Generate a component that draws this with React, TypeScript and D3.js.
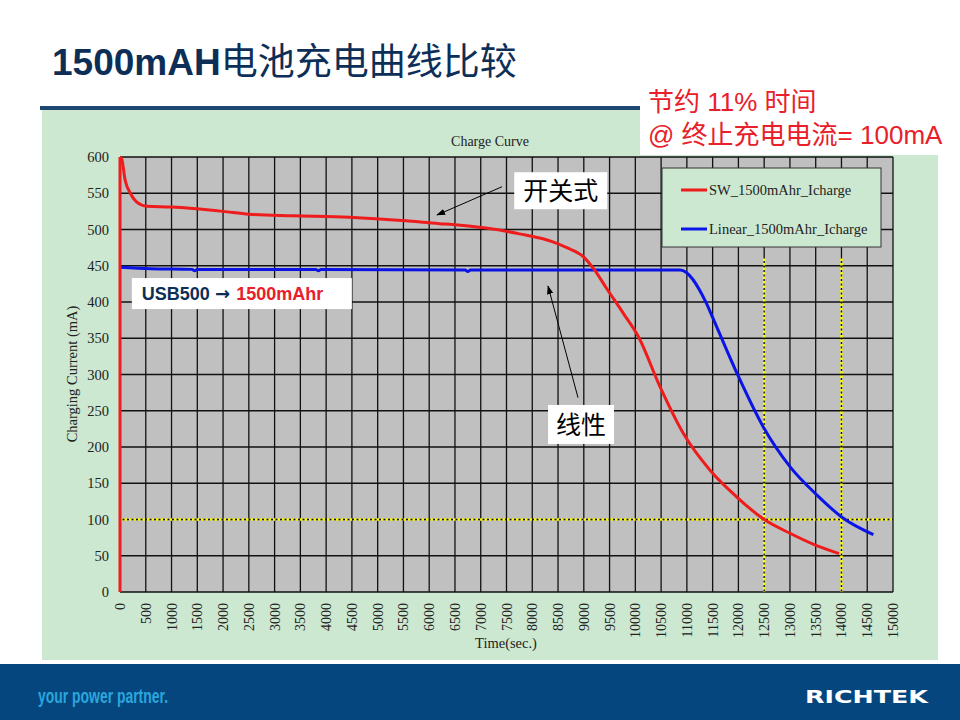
import React, { useEffect, useRef } from 'react';
import * as d3 from 'd3';

// switching charger (red)
const swTime = [0, 0, 30, 100, 200, 320, 520, 1000, 2000, 2500, 3350, 4450, 5550, 6200, 6450, 7100, 7750, 8400, 8670, 9000, 9190, 9440, 9770, 10060, 10480, 10930, 11450, 11970, 12480, 13000, 13450, 13950];
const swCurrent = [0, 600, 598, 568, 550, 538, 532, 531, 525, 521, 519, 517, 512, 508, 507, 502, 494, 483, 475, 462, 446, 419, 384, 352, 283, 219, 168, 131, 101, 81, 66, 53];

// linear charger (blue)
const linTime = [0, 600, 1400, 1450, 1500, 3800, 3850, 3900, 6700, 6750, 6800, 10870, 11380, 11510, 11970, 12480, 13000, 13520, 14030, 14620];
const linCurrent = [448, 446, 445, 443, 445, 445, 443, 445, 444, 442, 444, 444, 398, 377, 302, 228, 173, 134, 102, 79];

const seriesNames = ['SW_1500mAhr_Icharge', 'Linear_1500mAhr_Icharge'];
const seriesColors = ['#ee1c1c', '#0a14e6'];

const xTicks = d3.range(0, 15001, 500);
const yTicks = d3.range(0, 601, 50);

// yellow reference lines
const endCurrent = 100;
const endTimes = [12500, 14000];
const endTop = 460;

const RED = '#e8202a';
const NAVY = '#0d2f57';

export default function App() {
  const svgRef = useRef() as React.RefObject<SVGSVGElement>;

  useEffect(() => {
    const svg = d3.select(svgRef.current);
    svg.selectAll('*').remove();

    const left = 120, right = 893, top = 157, bottom = 592;
    const x = d3.scaleLinear().domain([0, 15000]).range([left, right]);
    const y = d3.scaleLinear().domain([0, 600]).range([bottom, top]);

    // slide background
    svg.append('rect').attr('width', 960).attr('height', 720).attr('fill', '#fff');
    svg.append('rect').attr('x', 42).attr('y', 110).attr('width', 896).attr('height', 550).attr('fill', '#cde8d1');
    svg.append('rect').attr('x', 40).attr('y', 106).attr('width', 600).attr('height', 4).attr('fill', '#1d4670');

    svg.append('text')
      .attr('x', 52).attr('y', 75)
      .attr('fill', NAVY)
      .style('font-family', '"Liberation Sans", "Noto Sans CJK SC", sans-serif')
      .style('font-size', '37px')
      .call(t => {
        t.append('tspan').attr('font-weight', 'bold').text('1500mAH');
        t.append('tspan').text('电池充电曲线比较');
      });

    // top-right note
    svg.append('rect').attr('x', 640).attr('y', 85).attr('width', 312).attr('height', 70).attr('fill', '#fff');
    const note = svg.append('g')
      .attr('fill', RED)
      .style('font-family', '"Liberation Sans", "Noto Sans CJK SC", sans-serif')
      .style('font-size', '26px');
    note.append('text').attr('x', 648).attr('y', 111).text('节约 11% 时间');
    note.append('text').attr('x', 648).attr('y', 144).text('@ 终止充电电流= 100mA');

    // plot area
    svg.append('rect').attr('x', left).attr('y', top).attr('width', right - left).attr('height', bottom - top).attr('fill', '#c0c0c0');

    svg.append('g').selectAll('line').data(xTicks).join('line')
      .attr('x1', d => x(d)).attr('x2', d => x(d)).attr('y1', top).attr('y2', bottom)
      .attr('stroke', '#111').attr('stroke-width', 1.3);
    svg.append('g').selectAll('line').data(yTicks).join('line')
      .attr('x1', left).attr('x2', right).attr('y1', d => y(d)).attr('y2', d => y(d))
      .attr('stroke', '#111').attr('stroke-width', 1.3);

    const serif = '"Liberation Serif", "DejaVu Serif", serif';

    // y axis labels
    svg.append('g').selectAll('text').data(yTicks).join('text')
      .attr('x', 109).attr('y', d => y(d) + 5)
      .attr('text-anchor', 'end')
      .attr('fill', '#222')
      .style('font-family', serif).style('font-size', '14.5px')
      .text(d => d);

    // x axis labels
    svg.append('g').selectAll('text').data(xTicks).join('text')
      .attr('transform', d => `translate(${x(d) + 5},603) rotate(-90)`)
      .attr('text-anchor', 'end')
      .attr('fill', '#222')
      .style('font-family', serif).style('font-size', '14px')
      .text(d => d);

    svg.append('text').attr('x', 506).attr('y', 648).attr('text-anchor', 'middle')
      .attr('fill', '#222').style('font-family', serif).style('font-size', '14.5px').text('Time(sec.)');
    svg.append('text').attr('transform', 'translate(77,374) rotate(-90)').attr('text-anchor', 'middle')
      .attr('fill', '#222').style('font-family', serif).style('font-size', '14.5px').text('Charging Current (mA)');
    svg.append('text').attr('x', 490).attr('y', 146).attr('text-anchor', 'middle')
      .attr('fill', '#222').style('font-family', serif).style('font-size', '14px').text('Charge Curve');

    // yellow reference lines
    const yellow = svg.append('g').attr('stroke', '#ffff00').attr('stroke-width', 2.5).attr('stroke-dasharray', '2.5,2');
    yellow.append('line').attr('x1', left).attr('x2', right).attr('y1', y(endCurrent)).attr('y2', y(endCurrent));
    yellow.selectAll('line.v').data(endTimes).join('line').attr('class', 'v')
      .attr('x1', d => x(d)).attr('x2', d => x(d)).attr('y1', y(endTop)).attr('y2', bottom);

    // curves
    const line = d3.line<[number, number]>()
      .x(d => x(d[0]))
      .y(d => y(d[1]))
      .curve(d3.curveMonotoneX);

    const lin = linTime.map((t, i) => [t, linCurrent[i]] as [number, number]);
    const sw = swTime.map((t, i) => [t, swCurrent[i]] as [number, number]);

    svg.append('path').attr('d', line(lin)).attr('fill', 'none').attr('stroke', seriesColors[1]).attr('stroke-width', 3);
    svg.append('path').attr('d', d3.line<[number, number]>().x(d => x(d[0])).y(d => y(d[1]))(sw.slice(0, 2)))
      .attr('fill', 'none').attr('stroke', seriesColors[0]).attr('stroke-width', 3);
    svg.append('path').attr('d', line(sw.slice(1))).attr('fill', 'none').attr('stroke', seriesColors[0]).attr('stroke-width', 3);

    // legend
    const lg = svg.append('g');
    lg.append('rect').attr('x', 662).attr('y', 168).attr('width', 219).attr('height', 79)
      .attr('fill', '#cde8d1').attr('stroke', '#333').attr('stroke-width', 1);
    seriesNames.forEach((name, i) => {
      const ly = 190 + i * 39;
      lg.append('line').attr('x1', 681).attr('x2', 707).attr('y1', ly).attr('y2', ly)
        .attr('stroke', seriesColors[i]).attr('stroke-width', 3);
      lg.append('text').attr('x', 709).attr('y', ly + 5).attr('fill', '#222')
        .style('font-family', serif).style('font-size', '14.5px').text(name);
    });

    // annotations
    const defs = svg.append('defs');
    defs.append('marker').attr('id', 'ah').attr('viewBox', '0 0 10 10').attr('refX', 9).attr('refY', 5)
      .attr('markerWidth', 9).attr('markerHeight', 9).attr('orient', 'auto-start-reverse')
      .append('path').attr('d', 'M0,1.5 L10,5 L0,8.5 Z').attr('fill', '#000');

    const cjk = '"Noto Sans CJK SC", sans-serif';
    svg.append('line').attr('x1', x(7413)).attr('y1', y(559)).attr('x2', x(6152)).attr('y2', y(520))
      .attr('stroke', '#000').attr('stroke-width', 1).attr('marker-end', 'url(#ah)');
    svg.append('rect').attr('x', x(7650)).attr('y', y(579)).attr('width', 93).attr('height', 37).attr('fill', '#fff');
    svg.append('text').attr('x', x(7650) + 46.5).attr('y', y(579) + 28).attr('text-anchor', 'middle')
      .style('font-family', cjk).style('font-size', '25px').attr('fill', '#000').text('开关式');

    svg.append('line').attr('x1', x(8888)).attr('y1', y(268)).attr('x2', x(8306)).attr('y2', y(422))
      .attr('stroke', '#000').attr('stroke-width', 1).attr('marker-end', 'url(#ah)');
    svg.append('rect').attr('x', x(8306)).attr('y', y(258)).attr('width', 66).attr('height', 39).attr('fill', '#fff');
    svg.append('text').attr('x', x(8306) + 33).attr('y', y(258) + 29).attr('text-anchor', 'middle')
      .style('font-family', cjk).style('font-size', '25px').attr('fill', '#000').text('线性');

    svg.append('rect').attr('x', x(230)).attr('y', y(433)).attr('width', 220).attr('height', 31).attr('fill', '#fff');
    svg.append('text').attr('x', x(230) + 10).attr('y', y(433) + 22)
      .style('font-family', '"Liberation Sans", "DejaVu Sans", sans-serif').style('font-size', '18px').attr('font-weight', 'bold')
      .call(t => {
        t.append('tspan').attr('fill', NAVY).text('USB500 ');
        t.append('tspan').attr('fill', NAVY).style('font-family', '"DejaVu Sans", sans-serif').text(' → ');
        t.append('tspan').attr('fill', RED).text('1500mAhr');
      });

    // footer
    svg.append('rect').attr('x', 0).attr('y', 664).attr('width', 960).attr('height', 56).attr('fill', '#05467e');
    svg.append('text').attr('x', 38).attr('y', 703).attr('fill', '#2aa6dd')
      .attr('textLength', 130).attr('lengthAdjust', 'spacingAndGlyphs')
      .style('font-family', '"Liberation Sans Narrow", "Liberation Sans", sans-serif').style('font-size', '21px').attr('font-weight', 'bold')
      .text('your power partner.');
    svg.append('text').attr('x', 805).attr('y', 703).attr('fill', '#fff')
      .attr('textLength', 123).attr('lengthAdjust', 'spacingAndGlyphs')
      .style('font-family', '"DejaVu Sans", sans-serif').style('font-size', '18px').attr('font-weight', 'bold')
      .text('RICHTEK');
  }, []);

  return (
    <svg ref={svgRef} width={960} height={720} style={{ position: 'absolute', left: 0, top: 0 }}></svg>
  );
}
